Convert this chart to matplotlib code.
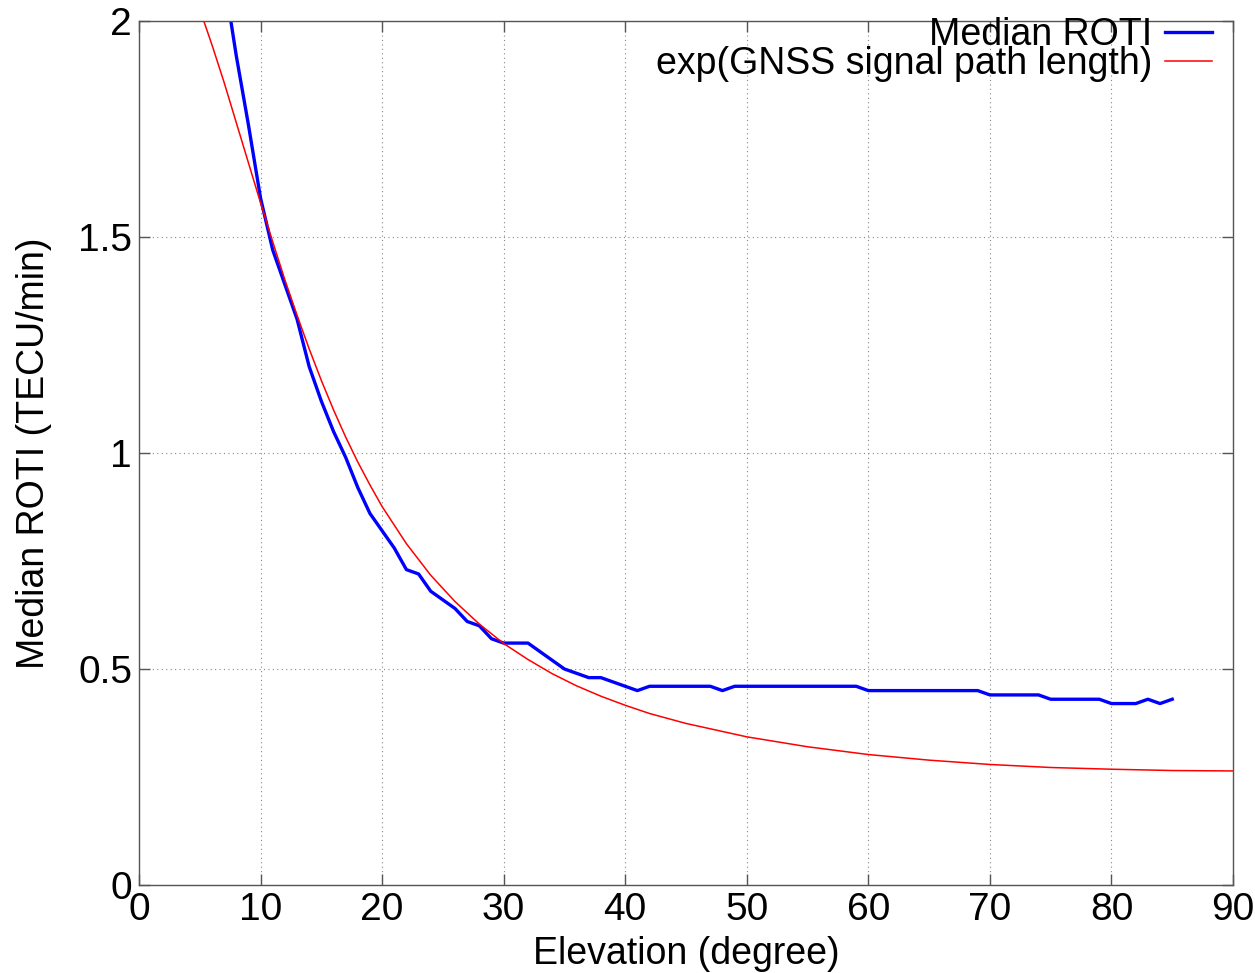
import matplotlib
matplotlib.use("Agg")
import matplotlib.pyplot as plt

plt.rcParams['font.family'] = ['Liberation Sans', 'DejaVu Sans']

# median ROTI per 1 degree elevation bin
elev = list(range(7, 86))
roti = [2.10, 1.92, 1.76, 1.59, 1.47, 1.39, 1.31, 1.20, 1.12, 1.05,
        0.99, 0.92, 0.86, 0.82, 0.78, 0.73, 0.72, 0.68, 0.66, 0.64,
        0.61, 0.60, 0.57, 0.56, 0.56, 0.56, 0.54, 0.52, 0.50, 0.49,
        0.48, 0.48, 0.47, 0.46, 0.45, 0.46, 0.46, 0.46, 0.46, 0.46,
        0.46, 0.45, 0.46, 0.46, 0.46, 0.46, 0.46, 0.46, 0.46, 0.46,
        0.46, 0.46, 0.46, 0.45, 0.45, 0.45, 0.45, 0.45, 0.45, 0.45,
        0.45, 0.45, 0.45, 0.44, 0.44, 0.44, 0.44, 0.44, 0.43, 0.43,
        0.43, 0.43, 0.43, 0.42, 0.42, 0.42, 0.43, 0.42, 0.43]

# path length model curve
elev_model = [5, 6, 7, 8, 9, 10, 11, 12, 13, 14, 15, 16, 17, 18, 19, 20,
              22, 24, 26, 28, 30, 32, 34, 36, 38, 40, 42, 45, 50, 55,
              60, 65, 70, 75, 80, 85, 90]
roti_model = [2.027, 1.945, 1.858, 1.765, 1.672, 1.579, 1.489, 1.401,
              1.319, 1.241, 1.168, 1.100, 1.037, 0.979, 0.926, 0.876,
              0.790, 0.717, 0.656, 0.604, 0.559, 0.522, 0.489, 0.461,
              0.437, 0.416, 0.397, 0.374, 0.343, 0.320, 0.302, 0.289,
              0.279, 0.272, 0.268, 0.265, 0.264]

fig = plt.figure(figsize=(12.55, 9.73), dpi=100)
ax = fig.add_axes([139 / 1255, 88 / 973, 1094 / 1255, 864 / 973])

ax.plot(elev, roti, color='#0000ff', lw=2.4, label='Median ROTI')
ax.plot(elev_model, roti_model, color='#ff0000', lw=1.1,
        label='exp(GNSS signal path length)')

ax.set_xlim(0, 90)
ax.set_ylim(0, 2)
ax.set_xticks(range(0, 91, 10))
ax.set_yticks([0, 0.5, 1, 1.5, 2])
ax.set_yticklabels(['0', '0.5', '1', '1.5', '2'])
ax.tick_params(direction='in', length=8, width=1, top=True, right=True,
               labelsize=28, color='#555555', pad=5)
ax.grid(True, color='#888888', linestyle=(0, (1, 3)), lw=0.8)
for s in ax.spines.values():
    s.set_color('#555555')
    s.set_linewidth(1.0)

ax.set_xlabel('Elevation (degree)', fontsize=27, labelpad=6)
ax.set_ylabel('Median ROTI (TECU/min)', fontsize=27, labelpad=19)

ax.legend(loc='upper right', bbox_to_anchor=(0.981, 1.005), markerfirst=False,
          frameon=False, fontsize=27, handlelength=1.25, handletextpad=0.35,
          labelspacing=-0.17, borderpad=0, borderaxespad=0)

fig.savefig('out.png', dpi=100)
